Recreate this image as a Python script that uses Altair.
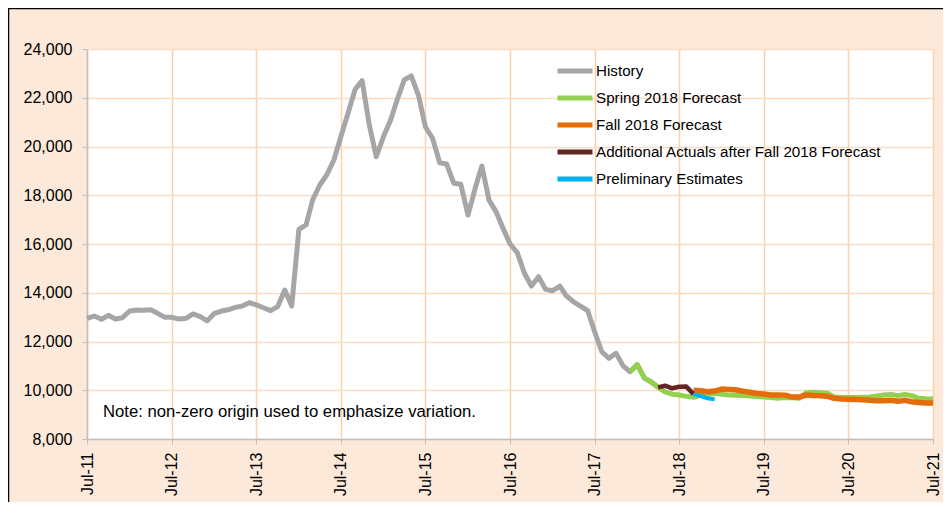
import altair as alt
import pandas as pd

# ---- data (monthly) ----
history_start = "2011-07-01"
history = [
    12950, 13045, 12910, 13075, 12920, 12975,            # Jul-11 .. Dec-11
    13250, 13290, 13280, 13300, 13155, 12990,            # Jan-12 .. Jun-12
    12990, 12920, 12950, 13130, 13020, 12850,            # Jul-12 .. Dec-12
    13150, 13250, 13300, 13400, 13455, 13590,            # Jan-13 .. Jun-13
    13500, 13385, 13265, 13430, 14110, 13455,            # Jul-13 .. Dec-13
    16600, 16780, 17800, 18420, 18830, 19445,            # Jan-14 .. Jun-14
    20400, 21360, 22350, 22700, 20880, 19580,            # Jul-14 .. Dec-14
    20400, 21090, 21910, 22730, 22900, 22110,            # Jan-15 .. Jun-15
    20810, 20340, 19335, 19280, 18490, 18450,            # Jul-15 .. Dec-15
    17190, 18285, 19200, 17800, 17330, 16640,            # Jan-16 .. Jun-16
    16000, 15640, 14800, 14275, 14660, 14140,            # Jul-16 .. Dec-16
    14085, 14275, 13865, 13630, 13455, 13265,            # Jan-17 .. Jun-17
    12400, 11580, 11310, 11515, 11000, 10760,            # Jul-17 .. Dec-17
    11050, 10500, 10350, 10120,                          # Jan-18 .. Apr-18
]

spring_start = "2017-12-01"
spring = [
    10760,
    11050, 10500, 10350, 10130, 9930, 9840,
    9805, 9750, 9710, 9790, 9830, 9870,
    9840, 9800, 9790, 9780, 9760, 9740,
    9720, 9700, 9670, 9700, 9690, 9670,
    9900, 9915, 9900, 9875, 9720, 9700,
    9700, 9700, 9710, 9720, 9760, 9805,
    9830, 9780, 9830, 9780, 9670, 9650,
    9640,
]

fall_start = "2018-09-01"
fall = [
    10000, 9980, 9940, 9965,
    10050, 10035, 10020, 9965, 9915, 9870,
    9845, 9805, 9805, 9800, 9720, 9720,
    9805, 9780, 9770, 9750, 9670, 9640,
    9630, 9625, 9610, 9590, 9570, 9570,
    9590, 9545, 9590, 9530, 9500, 9475,
    9475,
]

actuals_start = "2018-04-01"
actuals = [10120, 10185, 10080, 10145, 10150, 9840]

prelim_start = "2018-09-01"
prelim = [9840, 9765, 9670, 9625]

series_names = [
    "History",
    "Spring 2018 Forecast",
    "Fall 2018 Forecast",
    "Additional Actuals after Fall 2018 Forecast",
    "Preliminary Estimates",
]
series_colors = ["#A6A6A6", "#92D050", "#E46C0A", "#632523", "#00B0F0"]
series_widths = [5, 5, 5.5, 4.5, 4]

y_ticks = list(range(8000, 24001, 2000))
x_tick_years = list(range(2011, 2022))
note_text = "Note: non-zero origin used to emphasize variation."


def frame(name, start, values):
    dates = pd.date_range(start, periods=len(values), freq="MS")
    return pd.DataFrame({"date": dates, "value": values, "series": name})


df = pd.concat(
    [
        frame(series_names[0], history_start, history),
        frame(series_names[1], spring_start, spring),
        frame(series_names[2], fall_start, fall),
        frame(series_names[3], actuals_start, actuals),
        frame(series_names[4], prelim_start, prelim),
    ],
    ignore_index=True,
)

x_enc = alt.X(
    "date:T",
    scale=alt.Scale(
        domain=[alt.DateTime(year=2011, month=7, date=1),
                alt.DateTime(year=2021, month=7, date=1)]
    ),
    axis=alt.Axis(
        title=None,
        values=[alt.DateTime(year=y, month=7, date=1) for y in x_tick_years],
        format="%b-%y",
        labelAngle=-90,
        labelFontSize=16,
        labelColor="black",
        labelPadding=8,
        tickSize=5,
        tickColor="#BFBFBF",
        domainColor="#BFBFBF",
        domainWidth=1.5,
        gridColor="#F9D2AC",
        gridWidth=1.5,
    ),
)
y_enc = alt.Y(
    "value:Q",
    scale=alt.Scale(domain=[8000, 24000], nice=False, zero=False),
    axis=alt.Axis(
        title=None,
        values=y_ticks,
        format=",.0f",
        labelFontSize=16,
        labelColor="black",
        labelPadding=10,
        tickSize=5,
        tickColor="#BFBFBF",
        domainColor="#BFBFBF",
        domainWidth=1.5,
        gridColor="#FADCC4",
        gridWidth=1.5,
    ),
)
color_enc = alt.Color(
    "series:N",
    scale=alt.Scale(domain=series_names, range=series_colors),
    legend=alt.Legend(
        title=None,
        orient="none",
        legendX=468,
        legendY=14,
        symbolType="stroke",
        symbolSize=1225,
        symbolStrokeWidth=5,
        clipHeight=16,
        labelFontSize=15.2,
        labelColor="black",
        labelOffset=1,
        labelLimit=500,
        rowPadding=10,
        padding=0,
    ),
)

layers = []
for name, w in zip(series_names, series_widths):
    layers.append(
        alt.Chart(df)
        .transform_filter(alt.datum.series == name)
        .mark_line(strokeWidth=w, strokeJoin="round")
        .encode(x=x_enc, y=y_enc, color=color_enc)
    )

note = (
    alt.Chart(pd.DataFrame({"note": [note_text]}))
    .mark_text(align="left", baseline="middle", fontSize=16.7, color="black")
    .encode(x=alt.value(16), y=alt.value(363), text="note:N")
)

border_left = (
    alt.Chart(pd.DataFrame({"k": [0]}))
    .mark_rule(color="black", strokeWidth=1.5)
    .encode(x=alt.value(-78.5), y=alt.value(-41), y2=alt.value(460))
)
border_top = (
    alt.Chart(pd.DataFrame({"k": [0]}))
    .mark_rule(color="black", strokeWidth=1.5)
    .encode(x=alt.value(-79), x2=alt.value(860), y=alt.value(-40.5))
)

chart = (
    alt.layer(*layers, note, border_left, border_top)
    .properties(
        width=846,
        height=390,
        padding={"left": 79, "top": 41, "right": 10, "bottom": 63},
        autosize=alt.AutoSizeParams(type="none"),
    )
    .configure(background="#FDE9D9", font="Liberation Sans")
    .configure_view(fill="white", stroke=None)
)

chart.save("out.html", embed_options={"renderer": "svg", "actions": False})
